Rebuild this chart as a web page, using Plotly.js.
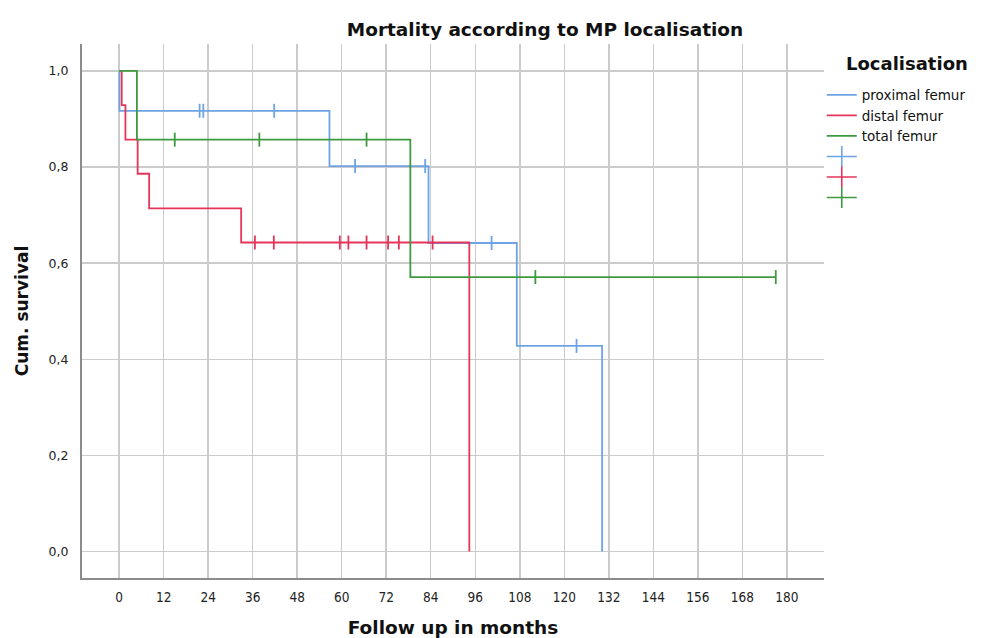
<!DOCTYPE html>
<html>
<head>
<meta charset="utf-8">
<script src="https://cdn.plot.ly/plotly-3.0.1.min.js"></script>
<style>html,body{margin:0;padding:0;background:#fff;}#chart{width:991px;height:638px;}</style>
</head>
<body>
<div id="chart"></div>
<script>
// Kaplan-Meier step data (months, cumulative survival)
const groupNames = ["proximal femur", "distal femur", "total femur"];
const colors = ["#6ea3e6", "#e5345a", "#3f9a3f"];

const proxTimes = [0, 0.1, 56.7, 83.4, 107.2, 130.2];
const proxSurv  = [1.0, 0.917, 0.802, 0.642, 0.428, 0.0];
const proxCensor = [21.7, 22.7, 41.8, 63.6, 82.5, 100.4, 123.3];

const distTimes = [0, 0.7, 1.7, 5.0, 8.1, 32.9, 94.4];
const distSurv  = [1.0, 0.929, 0.857, 0.786, 0.714, 0.643, 0.0];
const distCensor = [36.6, 41.7, 59.5, 61.8, 66.7, 72.5, 75.4, 84.5];

const totTimes = [0, 4.8, 78.5, 177.0];
const totSurv  = [1.0, 0.857, 0.571, 0.571];
const totCensor = [15.0, 37.8, 66.7, 112.2, 177.0];

const xTicks = [0, 12, 24, 36, 48, 60, 72, 84, 96, 108, 120, 132, 144, 156, 168, 180];
const yTicks = [0, 0.2, 0.4, 0.6, 0.8, 1.0];

function survAt(times, surv, t) {
  let s = surv[0];
  for (let i = 0; i < times.length; i++) { if (times[i] <= t) s = surv[i]; }
  return s;
}

const groups = [
  [proxTimes, proxSurv, proxCensor],
  [distTimes, distSurv, distCensor],
  [totTimes, totSurv, totCensor]
];

const traces = [];
groups.forEach((g, i) => {
  traces.push({
    x: g[0], y: g[1], type: "scatter", mode: "lines",
    line: {shape: "hv", color: colors[i], width: 1.8},
    name: groupNames[i], hoverinfo: "skip"
  });
});
groups.forEach((g, i) => {
  traces.push({
    x: g[2], y: g[2].map(t => survAt(g[0], g[1], t)), type: "scatter", mode: "markers",
    marker: {symbol: "line-ns-open", size: 10, line: {color: colors[i], width: 1.8}, color: colors[i]},
    showlegend: false, hoverinfo: "skip"
  });
});
// legend-only entries for the censor symbols
groups.forEach((g, i) => {
  traces.push({
    x: [null], y: [null], type: "scatter", mode: "lines+markers",
    line: {color: colors[i], width: 1.6},
    marker: {symbol: "line-ns-open", size: 15, line: {color: colors[i], width: 1.6}, color: colors[i]},
    name: " ", hoverinfo: "skip"
  });
});

const layout = {
  width: 991, height: 638,
  paper_bgcolor: "#fff", plot_bgcolor: "#fff",
  margin: {l: 82, r: 167, t: 44, b: 60, pad: 0},
  separators: ",.",
  font: {family: "DejaVu Sans, sans-serif", color: "#222"},
  title: {
    text: "<b>Mortality according to MP localisation</b>",
    font: {family: "DejaVu Sans, sans-serif", size: 18.5, color: "#111"},
    xref: "container", x: 545 / 991, xanchor: "center",
    yref: "container", y: 1 - 30 / 638, yanchor: "middle"
  },
  xaxis: {
    range: [-10, 190], tickvals: xTicks, ticktext: xTicks.map(String),
    showgrid: true, gridcolor: "#cbcbcb", gridwidth: 1.5,
    zeroline: false, showline: true, linecolor: "#8c8c8c", linewidth: 2,
    ticks: "", ticklabelstandoff: 6,
    tickfont: {family: "DejaVu Sans Condensed, DejaVu Sans, sans-serif", size: 13.5, color: "#222"},
    title: {text: "<b>Follow up in months</b>", standoff: 26,
      font: {family: "DejaVu Sans, sans-serif", size: 18.5, color: "#111"}}
  },
  yaxis: {
    range: [-0.055, 1.056], tickvals: yTicks, tickformat: ".1f",
    showgrid: true, gridcolor: "#cbcbcb", gridwidth: 1.5,
    zeroline: false, showline: true, linecolor: "#8c8c8c", linewidth: 2,
    ticks: "", ticklabelstandoff: 9,
    tickfont: {family: "DejaVu Sans, sans-serif", size: 12.5, color: "#222"},
    title: {text: "<b>Cum. survival</b>", standoff: 16,
      font: {family: "DejaVu Sans, sans-serif", size: 17, color: "#111"}}
  },
  legend: {
    x: 0.997, xanchor: "left", y: (638 - 60 - 79.5) / (638 - 44 - 60), yanchor: "top",
    font: {family: "DejaVu Sans, sans-serif", size: 13.5, color: "#111"},
    bgcolor: "rgba(0,0,0,0)", borderwidth: 0, tracegroupgap: 0, itemclick: false
  },
  annotations: [{
    text: "<b>Localisation</b>", xref: "paper", yref: "paper",
    x: (844 - 82) / 742, xanchor: "left",
    y: (638 - 60 - 64) / (638 - 44 - 60), yanchor: "middle",
    showarrow: false, font: {family: "DejaVu Sans, sans-serif", size: 18, color: "#111"}
  }]
};

Plotly.newPlot("chart", traces, layout, {displayModeBar: false, staticPlot: true});
</script>
</body>
</html>
